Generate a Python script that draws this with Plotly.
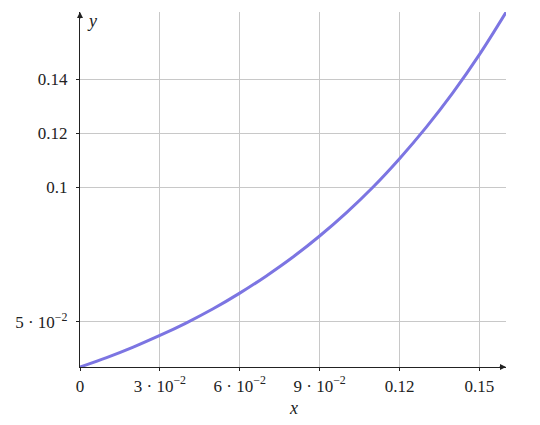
import plotly.graph_objects as go

x_vals = [0, 0.01, 0.02, 0.03, 0.04, 0.05, 0.06, 0.07, 0.08, 0.09, 0.10, 0.11, 0.12, 0.13, 0.14, 0.15, 0.16]
y_vals = [0.0333, 0.0368, 0.0407, 0.0450, 0.0497, 0.0549, 0.0607, 0.0671, 0.0741, 0.0819,
          0.0905, 0.1000, 0.1106, 0.1222, 0.1350, 0.1492, 0.1649]

x_tickvals = [0, 0.03, 0.06, 0.09, 0.12, 0.15]
x_ticktext = ["0", "3 · 10<sup>−2</sup>", "6 · 10<sup>−2</sup>", "9 · 10<sup>−2</sup>", "0.12", "0.15"]
y_tickvals = [0.05, 0.1, 0.12, 0.14]
y_ticktext = ["5 · 10<sup>−2</sup>", "0.1", "0.12", "0.14"]

FONT = "Liberation Serif, DejaVu Serif, serif"

fig = go.Figure()
fig.add_trace(go.Scatter(
    x=x_vals, y=y_vals, mode="lines", line=dict(color="rgb(124,117,226)", width=3, shape="spline"),
    showlegend=False, hoverinfo="skip", cliponaxis=False))

fig.update_layout(
    width=532, height=417,
    margin=dict(l=72, r=34, t=4, b=58),
    paper_bgcolor="white", plot_bgcolor="white",
    font=dict(family=FONT, size=17, color="#222"),
    xaxis=dict(range=[0, 0.16], tickvals=x_tickvals, ticktext=x_ticktext,
               showgrid=True, gridcolor="#c8c8c8", gridwidth=1, zeroline=False,
               showline=True, linecolor="#222", linewidth=1.2,
               ticks="outside", ticklen=3, tickcolor="#222"),
    yaxis=dict(range=[0.0333, 0.165], tickvals=y_tickvals, ticktext=y_ticktext,
               showgrid=True, gridcolor="#c8c8c8", gridwidth=1, zeroline=False,
               showline=True, linecolor="#222", linewidth=1.2,
               ticks="outside", ticklen=3, tickcolor="#222", ticklabelstandoff=5),
    annotations=[
        dict(xref="paper", yref="paper", x=1.0, y=0, ax=-8, ay=0,
             showarrow=True, arrowhead=2, arrowsize=1, arrowwidth=1.2, arrowcolor="#222", text=""),
        dict(xref="paper", yref="paper", x=0, y=1.0, ax=0, ay=8,
             showarrow=True, arrowhead=2, arrowsize=1, arrowwidth=1.2, arrowcolor="#222", text=""),
        dict(xref="paper", yref="paper", x=0.012, y=1.0, yshift=3, text="<i>y</i>", showarrow=False,
             xanchor="left", yanchor="top", font=dict(family=FONT, size=18)),
        dict(xref="paper", yref="paper", x=0.5, y=0, yshift=-41, text="<i>x</i>", showarrow=False,
             xanchor="center", yanchor="middle", font=dict(family=FONT, size=18)),
    ],
)

fig.write_html("out.html")
